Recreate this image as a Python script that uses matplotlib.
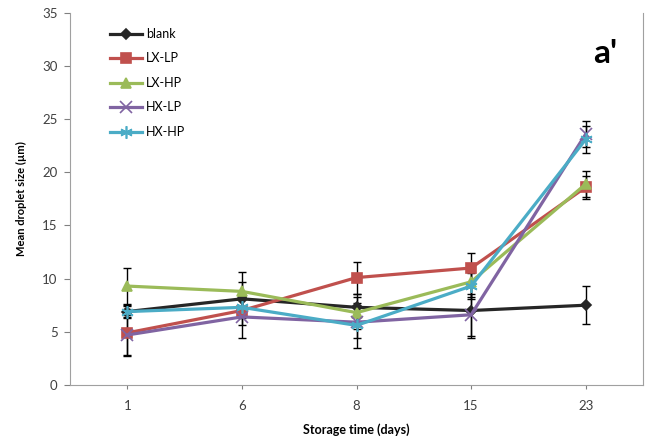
import matplotlib
matplotlib.use("Agg")
import matplotlib.pyplot as plt
import numpy as np

plt.rcParams['font.family'] = ['Lato', 'DejaVu Sans']

days = ["1", "6", "8", "15", "23"]
series = ["blank", "LX-LP", "LX-HP", "HX-LP", "HX-HP"]

blank = [6.9, 8.1, 7.3, 7.0, 7.5]
lx_lp = [4.9, 7.0, 10.1, 11.0, 18.6]
lx_hp = [9.3, 8.8, 6.8, 9.7, 18.9]
hx_lp = [4.7, 6.4, 5.9, 6.6, 23.6]
hx_hp = [6.9, 7.3, 5.6, 9.3, 23.1]

blank_err = [0.6, 1.6, 1.3, 2.6, 1.8]
lx_lp_err = [2.2, 1.4, 1.5, 1.4, 1.1]
lx_hp_err = [1.7, 1.8, 1.5, 1.4, 1.2]
hx_lp_err = [1.9, 2.0, 1.5, 2.0, 1.2]
hx_hp_err = [0.5, 1.0, 2.1, 1.2, 1.3]

values = [blank, lx_lp, lx_hp, hx_lp, hx_hp]
errors = [blank_err, lx_lp_err, lx_hp_err, hx_lp_err, hx_hp_err]
colors = ["#262626", "#C0504D", "#9BBB59", "#8064A2", "#4BACC6"]
markers = ["D", "s", "^", "x", (6, 2, 0)]
msizes = [5.5, 7.5, 7.5, 8, 9]

fig = plt.figure(figsize=(6.53, 4.45), dpi=100)
ax = fig.add_axes([0.1072, 0.135, 0.8775, 0.836])

x = np.arange(len(days))
for vals, err, c, m, ms, name in zip(values, errors, colors, markers, msizes, series):
    ax.errorbar(x, vals, yerr=err, fmt='none', ecolor='black', elinewidth=1,
                capsize=3, capthick=1, zorder=2)
    ax.plot(x, vals, color=c, lw=2.3, marker=m, markersize=ms,
            markeredgecolor=c, markeredgewidth=1.2, label=name, zorder=3)

ax.set_xlim(-0.5, len(days) - 0.5)
ax.set_ylim(0, 35)
ax.set_yticks(np.arange(0, 36, 5))
ax.set_xticks(x)
ax.set_xticklabels(days)
ax.tick_params(axis='both', colors='#808080', labelcolor='#404040', labelsize=9.5, length=4)
ax.tick_params(axis='y', pad=5)
ax.tick_params(axis='x', pad=8, length=3)

for s in ['left', 'bottom', 'right']:
    ax.spines[s].set_color('#A0A0A0')
ax.spines['top'].set_visible(False)

ax.set_ylabel("Mean droplet size (µm)", fontsize=8, fontweight='bold', labelpad=11)
ax.set_xlabel("Storage time (days)", fontsize=9, fontweight='bold', labelpad=8)

ax.legend(loc='upper left', bbox_to_anchor=(0.05, 0.99), frameon=False,
          fontsize=9, handlelength=2.6, labelspacing=1.0, handletextpad=0.3)
ax.text(0.955, 0.89, "a'", transform=ax.transAxes, fontsize=24,
        fontweight='bold', ha='right', va='center')

fig.savefig("out.png")
